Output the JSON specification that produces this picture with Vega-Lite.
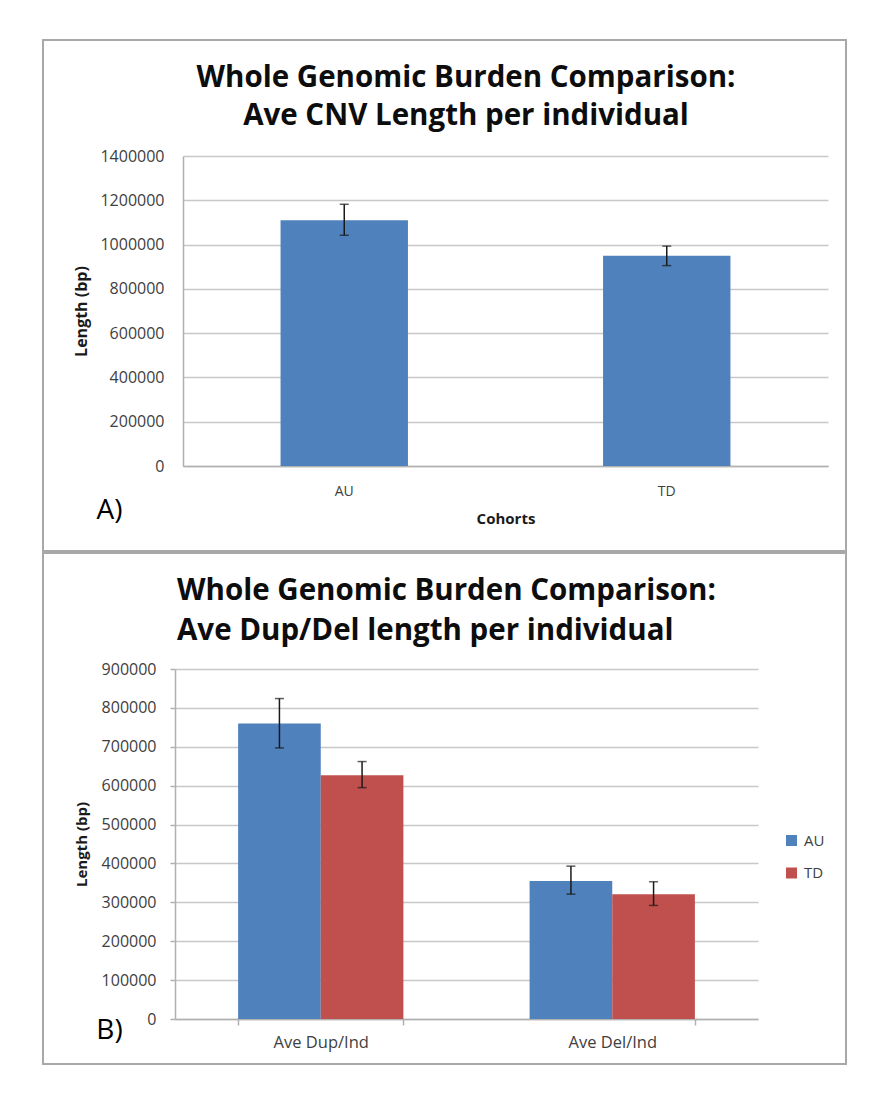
{
  "$schema": "https://vega.github.io/schema/vega-lite/v6.json",
  "background": "white",
  "padding": {"left": 42, "top": 39, "right": 41, "bottom": 38},
  "bounds": "flush",
  "spacing": 2,
  "resolve": {"legend": {"color": "independent"}},
  "config": {
    "view": {"stroke": "#a8a8a8", "strokeWidth": 2, "fill": "white"},
    "font": "Open Sans",
    "axis": {
      "labelFont": "Open Sans", "titleFont": "Open Sans",
      "labelColor": "#404040", "titleColor": "#1a1a1a",
      "domainColor": "#b0b0b0", "domainWidth": 1.5,
      "gridColor": "#c8c8c8", "gridWidth": 1.5,
      "tickColor": "#b0b0b0", "tickWidth": 1.5
    },
    "legend": {"labelFont": "Open Sans", "labelFontSize": 15, "labelColor": "#404040"}
  },
  "vconcat": [
    {
      "width": 803,
      "height": 511,
      "data": {"values": [
        {"cohort": "AU", "len": 1110000, "lo": 1042000, "hi": 1182000},
        {"cohort": "TD", "len": 950000, "lo": 905000, "hi": 993000}
      ]},
      "title": {
        "text": ["Whole Genomic Burden Comparison:", "Ave CNV Length per individual"],
        "frame": "group", "anchor": "middle", "dx": 21.5,
        "baseline": "bottom", "offset": -120.5,
        "font": "Open Sans", "fontSize": 29.5, "fontWeight": "bold", "color": "#0d0d0d",
        "lineHeight": 38
      },
      "resolve": {"axis": {"x": "independent"}},
      "layer": [
        {
          "mark": {"type": "bar", "color": "#4f81bd"},
          "encoding": {
            "x": {
              "field": "cohort", "type": "nominal",
              "scale": {"range": [140, 785], "paddingInner": 0.605, "paddingOuter": 0.3025},
              "axis": {
                "orient": "bottom", "offset": -85, "title": "Cohorts",
                "titleFontSize": 15, "titleFontWeight": "bold", "titleY": 52, "titleBaseline": "middle",
                "ticks": false, "labelAngle": 0, "labelFontSize": 14, "labelPadding": 25,
                "labelBaseline": "middle", "grid": false
              }
            },
            "y": {
              "field": "len", "type": "quantitative",
              "scale": {"domain": [0, 1400000], "range": [426, 116], "nice": false, "zero": true},
              "axis": {
                "title": "Length (bp)", "offset": -140,
                "values": [0, 200000, 400000, 600000, 800000, 1000000, 1200000, 1400000],
                "format": "d", "grid": true, "ticks": false,
                "labelFontSize": 16, "labelPadding": 19,
                "titleFontSize": 16, "titleFontWeight": "bold", "titleX": -102,
                "titleBaseline": "middle", "titleAngle": -90
              }
            }
          }
        },
        {
          "mark": {"type": "rule", "color": "#1a1a1a", "strokeWidth": 1.5},
          "encoding": {
            "x": {
              "field": "cohort", "type": "nominal",
              "axis": {
                "orient": "top", "title": "A)", "titleFont": "Open Sans", "titleFontSize": 28,
                "titleFontWeight": "normal", "titleColor": "#000000",
                "titleX": 66, "titleY": 470, "titleAlign": "center", "titleBaseline": "middle",
                "labels": false, "ticks": false, "domain": false, "grid": false
              }
            },
            "y": {"field": "lo", "type": "quantitative"},
            "y2": {"field": "hi"}
          }
        },
        {
          "mark": {"type": "tick", "color": "#1a1a1a", "thickness": 1.5, "size": 9},
          "encoding": {
            "x": {"field": "cohort", "type": "nominal", "axis": null},
            "y": {"field": "lo", "type": "quantitative"}
          }
        },
        {
          "mark": {"type": "tick", "color": "#1a1a1a", "thickness": 1.5, "size": 9},
          "encoding": {
            "x": {"field": "cohort", "type": "nominal", "axis": null},
            "y": {"field": "hi", "type": "quantitative"}
          }
        }
      ]
    },
    {
      "width": 803,
      "height": 511,
      "data": {"values": [
        {"metric": "Ave Dup/Ind", "cohort": "AU", "len": 760000, "lo": 697000, "hi": 824000},
        {"metric": "Ave Dup/Ind", "cohort": "TD", "len": 627000, "lo": 595000, "hi": 662000},
        {"metric": "Ave Del/Ind", "cohort": "AU", "len": 355000, "lo": 321000, "hi": 393000},
        {"metric": "Ave Del/Ind", "cohort": "TD", "len": 321000, "lo": 292000, "hi": 353000}
      ]},
      "title": {
        "text": ["Whole Genomic Burden Comparison:", "Ave Dup/Del length per individual"],
        "frame": "group", "anchor": "start", "dx": 134,
        "baseline": "bottom", "offset": -122.5,
        "font": "Open Sans", "fontSize": 29.5, "fontWeight": "bold", "color": "#0d0d0d",
        "lineHeight": 40
      },
      "layer": [
        {
          "mark": {"type": "bar"},
          "encoding": {
            "x": {
              "field": "metric", "type": "nominal", "sort": ["Ave Dup/Ind", "Ave Del/Ind"],
              "scale": {"range": [132, 715], "paddingInner": 0.433, "paddingOuter": 0.2165},
              "axis": {
                "orient": "bottom", "offset": -45, "title": "B)",
                "titleFontSize": 28, "titleFontWeight": "normal", "titleColor": "#000000",
                "titleX": 66, "titleY": 11, "titleAlign": "center", "titleBaseline": "middle",
                "ticks": true, "tickBand": "extent", "tickSize": 6,
                "labelAngle": 0, "labelFontSize": 16.5, "labelPadding": 17, "labelBaseline": "middle",
                "grid": false
              }
            },
            "xOffset": {"field": "cohort", "type": "nominal", "sort": ["AU", "TD"], "scale": {"paddingInner": 0, "paddingOuter": 0}},
            "y": {
              "field": "len", "type": "quantitative",
              "scale": {"domain": [0, 900000], "range": [466, 116], "nice": false, "zero": true},
              "axis": {
                "title": "Length (bp)", "offset": -132,
                "values": [0, 100000, 200000, 300000, 400000, 500000, 600000, 700000, 800000, 900000],
                "format": "d", "grid": true, "ticks": true, "tickSize": 5,
                "labelFontSize": 16, "labelPadding": 14,
                "titleFontSize": 15, "titleFontWeight": "bold", "titleX": -94,
                "titleBaseline": "middle", "titleAngle": -90
              }
            },
            "color": {
              "field": "cohort", "type": "nominal",
              "scale": {"domain": ["AU", "TD"], "range": ["#4f81bd", "#c0504d"]},
              "legend": {
                "orient": "none", "legendX": 741, "legendY": 280, "title": null,
                "symbolType": "square", "symbolSize": 121, "symbolStrokeWidth": 0,
                "labelFontSize": 15, "rowPadding": 16.5, "labelOffset": 5, "padding": 0
              }
            }
          }
        },
        {
          "mark": {"type": "rule", "color": "#1a1a1a", "strokeWidth": 1.5},
          "encoding": {
            "x": {"field": "metric", "type": "nominal", "sort": ["Ave Dup/Ind", "Ave Del/Ind"]},
            "xOffset": {"field": "cohort", "type": "nominal", "sort": ["AU", "TD"]},
            "y": {"field": "lo", "type": "quantitative"},
            "y2": {"field": "hi"}
          }
        },
        {
          "mark": {"type": "tick", "color": "#1a1a1a", "thickness": 1.5, "size": 9},
          "encoding": {
            "x": {"field": "metric", "type": "nominal", "sort": ["Ave Dup/Ind", "Ave Del/Ind"]},
            "xOffset": {"field": "cohort", "type": "nominal", "sort": ["AU", "TD"]},
            "y": {"field": "lo", "type": "quantitative"}
          }
        },
        {
          "mark": {"type": "tick", "color": "#1a1a1a", "thickness": 1.5, "size": 9},
          "encoding": {
            "x": {"field": "metric", "type": "nominal", "sort": ["Ave Dup/Ind", "Ave Del/Ind"]},
            "xOffset": {"field": "cohort", "type": "nominal", "sort": ["AU", "TD"]},
            "y": {"field": "hi", "type": "quantitative"}
          }
        }
      ]
    }
  ]
}
